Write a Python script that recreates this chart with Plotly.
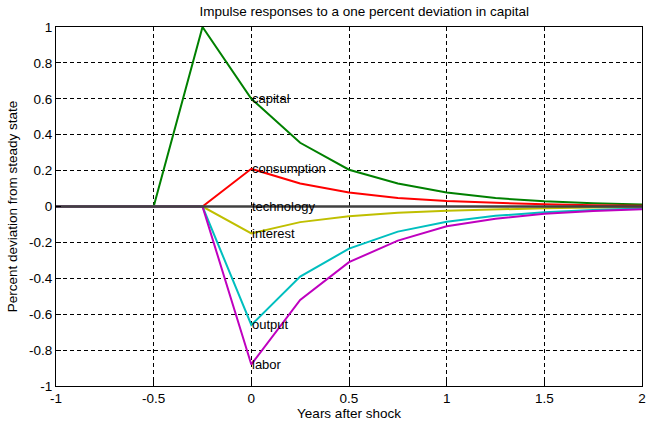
import plotly.graph_objects as go

# Quarterly horizon, in years relative to the shock
years = [-1, -0.75, -0.5, -0.25, 0, 0.25, 0.5, 0.75, 1, 1.25, 1.5, 1.75, 2]

capital = [0, 0, 0, 1.0, 0.60, 0.355, 0.205, 0.128, 0.078, 0.047, 0.029, 0.018, 0.011]
consumption = [0, 0, 0, 0, 0.21, 0.128, 0.078, 0.048, 0.030, 0.019, 0.012, 0.007, 0.004]
technology = [0, 0, 0, 0, 0, 0, 0, 0, 0, 0, 0, 0, 0]
interest = [0, 0, 0, 0, -0.15, -0.087, -0.054, -0.035, -0.023, -0.015, -0.010, -0.006, -0.004]
output = [0, 0, 0, 0, -0.66, -0.39, -0.235, -0.14, -0.085, -0.052, -0.032, -0.019, -0.011]
labor = [0, 0, 0, 0, -0.88, -0.52, -0.31, -0.19, -0.11, -0.068, -0.041, -0.025, -0.015]

series = [
    ("capital", capital, "#008000"),
    ("consumption", consumption, "#ff0000"),
    ("technology", technology, "#404040"),
    ("interest", interest, "#bfbf00"),
    ("output", output, "#00bfbf"),
    ("labor", labor, "#bf00bf"),
]

x_ticks = [-1, -0.5, 0, 0.5, 1, 1.5, 2]
x_tick_labels = ["-1", "-0.5", "0", "0.5", "1", "1.5", "2"]
y_ticks = [-1, -0.8, -0.6, -0.4, -0.2, 0, 0.2, 0.4, 0.6, 0.8, 1]
y_tick_labels = ["-1", "-0.8", "-0.6", "-0.4", "-0.2", "0", "0.2", "0.4", "0.6", "0.8", "1"]

font_family = "Liberation Sans, Arial, sans-serif"
font_size = 13.5

fig = go.Figure()
# The flat technology response is drawn last so it sits over the pre-shock zeros
draw_order = [s for s in series if s[0] != "technology"] + [s for s in series if s[0] == "technology"]
for name, values, color in draw_order:
    fig.add_trace(go.Scatter(
        x=years, y=values, mode="lines", name=name,
        line=dict(color=color, width=2.5 if name == "technology" else 2),
        showlegend=False, hoverinfo="skip",
    ))

# Series names written beside each response at the moment of the shock
i0 = years.index(0)
for name, values, color in series:
    fig.add_annotation(
        x=0, y=values[i0], text=name, showarrow=False,
        xanchor="left", yanchor="middle", xshift=-1,
        font=dict(family=font_family, size=13, color="#000000"),
    )

axis_common = dict(
    showgrid=True, gridcolor="#000000", gridwidth=1, griddash="4px,3px",
    zeroline=False, showline=True, linecolor="#000000", linewidth=1,
    mirror=True, ticks="inside", ticklen=5, tickcolor="#000000",
    automargin=False,
    tickfont=dict(family=font_family, size=font_size, color="#000000"),
)

fig.update_layout(
    width=646, height=421,
    margin=dict(l=56, r=4, t=27, b=35),
    paper_bgcolor="#ffffff", plot_bgcolor="#ffffff",
    title=dict(
        text="Impulse responses to a one percent deviation in capital",
        xref="paper", x=0.526, xanchor="center", y=0.985, yanchor="top",
        font=dict(family=font_family, size=font_size, color="#000000"),
    ),
    xaxis=dict(
        range=[-1, 2], tickvals=x_ticks, ticktext=x_tick_labels,
        title=dict(text="Years after shock", standoff=4,
                   font=dict(family=font_family, size=font_size, color="#000000")),
        **axis_common,
    ),
    yaxis=dict(
        range=[-1, 1], tickvals=y_ticks, ticktext=y_tick_labels,
        title=dict(text="Percent deviation from steady state", standoff=8,
                   font=dict(family=font_family, size=font_size, color="#000000")),
        **axis_common,
    ),
)

fig.write_html("out.html")
